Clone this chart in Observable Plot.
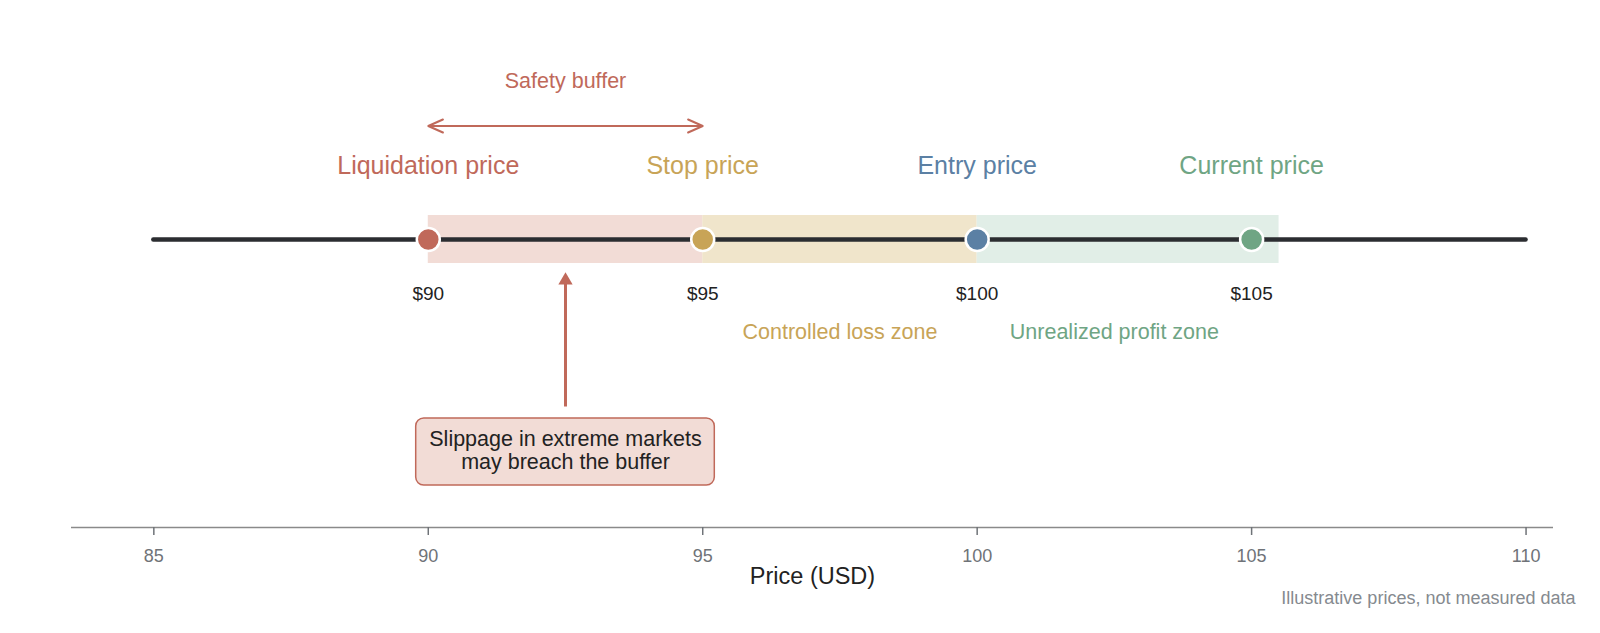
<!DOCTYPE html>
<html>
<head>
<meta charset="utf-8">
<script src="https://cdn.jsdelivr.net/npm/d3@7"></script>
<script src="https://cdn.jsdelivr.net/npm/@observablehq/plot@0.6"></script>
<style>
  html, body { margin: 0; padding: 0; background: #fff; }
  #chart svg { display: block; }
</style>
</head>
<body>
<div id="chart"></div>
<script>
// ---------- data ----------
const markerNames  = ["Liquidation price", "Stop price", "Entry price", "Current price"];
const markerPrices = [90, 95, 100, 105];
const priceLabels  = ["$90", "$95", "$100", "$105"];
const markerColors = ["#c0695a", "#c8a457", "#5b80a4", "#6fa584"];

const zoneNames    = ["Buffer zone", "Controlled loss zone", "Unrealized profit zone"];
const zoneStart    = [90, 95, 100];
const zoneEnd      = [95, 100, 105.5];
const zoneLabelX   = [92.5, 97.5, 102.5];
const zoneShown    = [false, true, true];
const zoneFills    = ["#f2dcd6", "#f0e5cb", "#e1eee7"];
const zoneText     = ["#c0695a", "#c8a457", "#6fa584"];

const trackRange   = [85, 110];
const axisTicks    = [85, 90, 95, 100, 105, 110];
const xDomain      = [83.5, 110.5];

const bufferRange  = [90, 95];
const bufferLabel  = "Safety buffer";

const calloutPrice = 92.5;
const calloutHalf  = 2.72;
const calloutLines = ["Slippage in extreme markets", "may breach the buffer"];

const xLabel  = "Price (USD)";
const caption = "Illustrative prices, not measured data";

// ---------- layout (pixels above the track line) ----------
const L = {
  bottom: -288, top: 239,
  bufferText: 158, bufferArrow: 113.5,
  name: 74, band: 24, price: -54, zone: -93,
  tip: -33, tail: -167, boxTop: -179, boxBottom: -246, boxText: -210.5
};

const red = markerColors[0];

const markers = markerNames.map((name, i) => ({
  name, price: markerPrices[i], label: priceLabels[i], color: markerColors[i]
}));
const zones = zoneNames.map((name, i) => ({
  name, start: zoneStart[i], end: zoneEnd[i], lx: zoneLabelX[i],
  shown: zoneShown[i], fill: zoneFills[i], text: zoneText[i]
}));
const bufferMid = (bufferRange[0] + bufferRange[1]) / 2;

const chart = Plot.plot({
  width: 1600,
  height: 633,
  marginLeft: 71,
  marginRight: 47,
  marginTop: 0,
  marginBottom: 106,
  style: { fontFamily: "'Liberation Sans', Arial, Helvetica, sans-serif", background: "#fff" },
  x: { domain: xDomain },
  y: { domain: [L.bottom, L.top], axis: null },
  color: { type: "identity" },
  marks: [
    // zone bands
    Plot.rect(zones, { x1: "start", x2: "end", y1: -L.band, y2: L.band, fill: "fill" }),
    // track
    Plot.ruleY([0], { x1: trackRange[0], x2: trackRange[1], stroke: "#2b2d31", strokeWidth: 4.5, strokeLinecap: "round" }),
    // price dots
    Plot.dot(markers, { x: "price", y: 0, r: 11.5, fill: "color", stroke: "#fff", strokeWidth: 2.5 }),
    // names above
    Plot.text(markers, { x: "price", y: L.name, text: "name", fill: "color", fontSize: 25 }),
    // price labels below
    Plot.text(markers, { x: "price", y: L.price, text: "label", fill: "#222", fontSize: 19 }),
    // zone labels
    Plot.text(zones.filter(d => d.shown), { x: "lx", y: L.zone, text: "name", fill: "text", fontSize: 21.5 }),
    // safety buffer double arrow
    Plot.arrow([bufferRange[0], bufferRange[1]], {
      x1: () => bufferMid, x2: d => d, y1: L.bufferArrow, y2: L.bufferArrow,
      stroke: red, strokeWidth: 2, headLength: 12, headAngle: 48
    }),
    Plot.text([bufferLabel], { x: bufferMid, y: L.bufferText, text: d => d, fill: red, fontSize: 21.5 }),
    // callout arrow
    Plot.link([calloutPrice], { x1: d => d, x2: d => d, y1: L.tail, y2: L.tip - 9, stroke: red, strokeWidth: 3 }),
    Plot.dot([calloutPrice], { x: d => d, y: L.tip, dy: 8, symbol: "triangle", r: 5.3, fill: red, stroke: "none" }),
    // callout box
    Plot.rect([calloutPrice], {
      x1: d => d - calloutHalf, x2: d => d + calloutHalf, y1: L.boxBottom, y2: L.boxTop,
      fill: "#f2dcd6", stroke: red, strokeWidth: 1.5, rx: 8
    }),
    Plot.text([calloutLines.join("\n")], { x: calloutPrice, y: L.boxText, text: d => d, fill: "#222", fontSize: 21.5, lineHeight: 1.07 }),
    // axis line
    Plot.ruleY([L.bottom], { stroke: "#8a8a8a", strokeWidth: 1.5 }),
    Plot.axisX({ ticks: axisTicks, tickSize: 8, tickPadding: 14, fontSize: 18, color: "#6f7378", strokeWidth: 1.5, label: null, tickFormat: d => String(d) }),
    Plot.text([xLabel], { frameAnchor: "bottom", dy: 56, text: d => d, fill: "#222", fontSize: 23.5 }),
    Plot.text([caption], { frameAnchor: "bottom-right", dx: 22, dy: 76, textAnchor: "end", text: d => d, fill: "#858a8f", fontSize: 18 })
  ]
});

document.getElementById("chart").appendChild(chart);
</script>
</body>
</html>
